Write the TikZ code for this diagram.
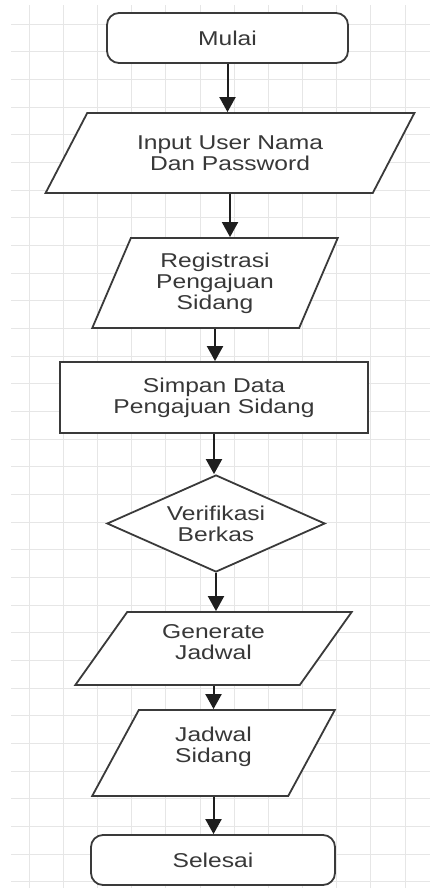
\documentclass[tikz,border=0pt]{standalone}
\usepackage{fontspec}
\setmainfont{Liberation Sans}[FakeStretch=1.23]
\usetikzlibrary{shapes.geometric,arrows.meta}
\definecolor{gris}{HTML}{E6E6E6}
\definecolor{trait}{HTML}{3A3A3A}
\definecolor{texte}{HTML}{383838}
\definecolor{panah}{HTML}{1E1E1E}
\begin{document}
\begin{tikzpicture}[x=1pt,y=-1pt,font=\fontsize{20}{21}\selectfont]
  \tikzstyle{grille}=[draw=gris, line width=0.9pt]
  \tikzstyle{terminal}=[rectangle, rounded corners=12pt, draw=trait, line width=1.8pt,
  fill=white, text=texte, minimum height=50pt, inner sep=0pt, align=center]
  \tikzstyle{masukan}=[trapezium, trapezium stretches=true, draw=trait, line width=1.8pt,
  fill=white, text=texte, inner sep=0pt, align=center]
  \tikzstyle{proses}=[rectangle, draw=trait, line width=1.8pt, fill=white, text=texte,
  minimum width=308pt, minimum height=71pt, inner sep=0pt, align=center]
  \tikzstyle{keputusan}=[diamond, aspect=2.25, draw=trait, line width=1.8pt, fill=white,
  text=texte, minimum width=218pt, minimum height=97pt, inner sep=0pt, align=center]
  \tikzstyle{panahan}=[-{Triangle[length=15pt,width=16pt]}, draw=panah, line width=2pt]
  \useasboundingbox (0,0) rectangle (430,888);
  % kisi latar
  \foreach \i in {0,...,11} {
    \draw[grille] ({29.3+34.15*\i},5) -- ({29.3+34.15*\i},888);
  }
  \foreach \j in {0,...,31} {
    \draw[grille] (11,{24+27.67*\j}) -- (430,{24+27.67*\j});
  }
  % simbol
  \draw (227.5,38) node[terminal, minimum width=241pt] (mulai) {Mulai};
  \draw (230,153) node[masukan, minimum width=370pt, minimum height=80pt,
  trapezium left angle=52.2, trapezium right angle=127.8] (input) {Input User Nama\\Dan Password};
  \draw (215,283) node[masukan, minimum width=246pt, minimum height=90pt,
  trapezium left angle=66, trapezium right angle=114] (registrasi) {Registrasi\\Pengajuan\\Sidang};
  \draw (214,397.5) node[proses] (simpan) {Simpan Data\\Pengajuan Sidang};
  \draw (216,523.5) node[keputusan] (verifikasi) {Verifikasi\\Berkas};
  \draw (213.5,648.5) node[masukan, minimum width=277pt, minimum height=73pt, text depth=12pt,
  trapezium left angle=56.7, trapezium right angle=123.3] (generate) {Generate\\Jadwal};
  \draw (213.5,753) node[masukan, minimum width=243pt, minimum height=86pt, text depth=16pt,
  trapezium left angle=65.1, trapezium right angle=114.9] (jadwal) {Jadwal\\Sidang};
  \draw (213,860) node[terminal, minimum width=244pt] (selesai) {Selesai};
  % alur
  \foreach \a/\b in {mulai/input,input/registrasi,registrasi/simpan,simpan/verifikasi,
    verifikasi/generate,generate/jadwal,jadwal/selesai} {
    \draw[panahan] (\a.south) -- (\a.south |- \b.north);
  }
\end{tikzpicture}
\end{document}
